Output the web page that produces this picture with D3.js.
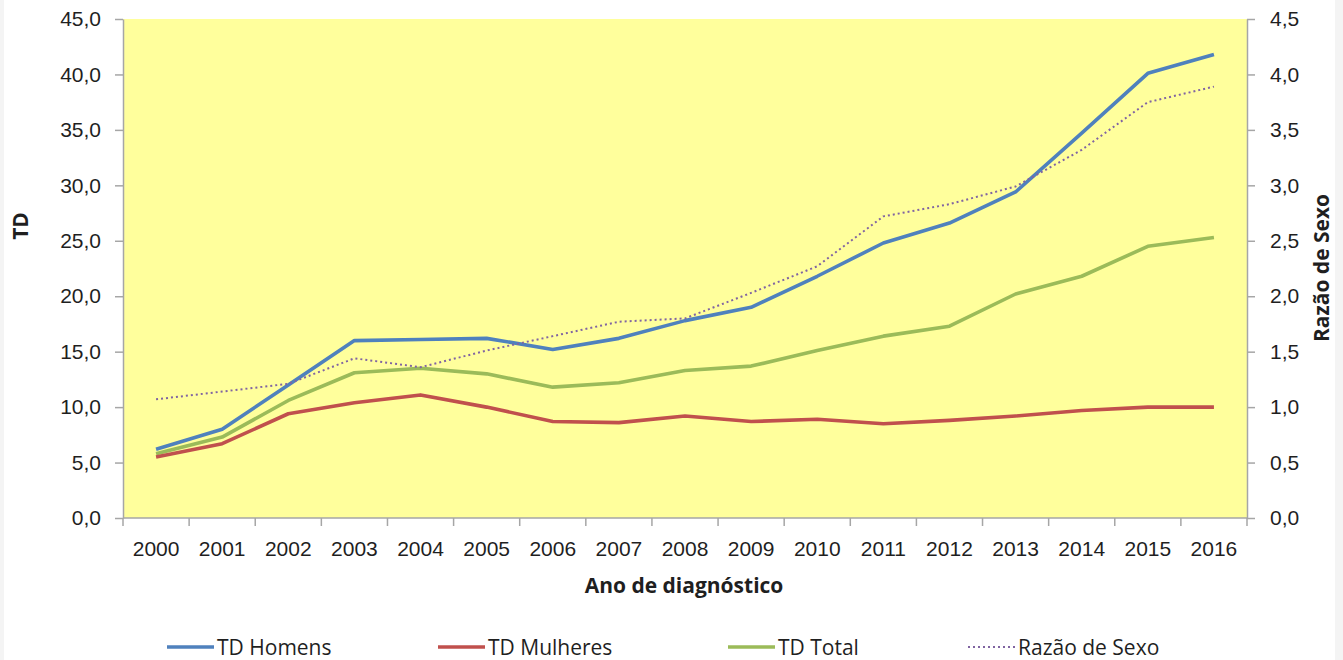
<!doctype html>
<html>
  <head>
    <meta charset="utf-8">
    <title>TD por ano de diagnóstico</title>
    <script src="https://cdnjs.cloudflare.com/ajax/libs/d3/7.8.5/d3.min.js"></script>
    <style>
      html, body { margin: 0; padding: 0; background: #f4f4f4; }
      svg { display: block; font-family: "Open Sans", sans-serif; }
    </style>
  </head>
  <body>
    <div id="chart"></div>
    <script>
      // values
      const years = ['2000','2001','2002','2003','2004','2005','2006','2007','2008',
                     '2009','2010','2011','2012','2013','2014','2015','2016'];
      const tdHomens   = [6.2, 8.0, 12.0, 16.0, 16.1, 16.2, 15.2, 16.2, 17.8, 19.0, 21.8, 24.8, 26.6, 29.4, 34.7, 40.1, 41.8];
      const tdMulheres = [5.5, 6.7, 9.4, 10.4, 11.1, 10.0, 8.7, 8.6, 9.2, 8.7, 8.9, 8.5, 8.8, 9.2, 9.7, 10.0, 10.0];
      const tdTotal    = [5.8, 7.3, 10.6, 13.1, 13.5, 13.0, 11.8, 12.2, 13.3, 13.7, 15.1, 16.4, 17.3, 20.2, 21.8, 24.5, 25.3];
      const razaoSexo  = [1.07, 1.14, 1.21, 1.44, 1.36, 1.51, 1.64, 1.77, 1.80, 2.03, 2.27, 2.72, 2.83, 2.99, 3.32, 3.75, 3.89];
      const leftTicks  = [0, 5, 10, 15, 20, 25, 30, 35, 40, 45];
      const rightTicks = [0, 0.5, 1, 1.5, 2, 2.5, 3, 3.5, 4, 4.5];

      const W = 1343, H = 660;
      const m = { left: 123, right: 1247, top: 19, bottom: 518 };
      const fmt = d3.format('.1f');
      const comma = v => fmt(v).replace('.', ',');

      const svg = d3.select('#chart').append('svg')
        .attr('width', W).attr('height', H);

      svg.append('rect').attr('x', 4).attr('y', 0)
        .attr('width', 1331).attr('height', H).attr('fill', '#fff');

      const x = d3.scaleBand().domain(years).range([m.left, m.right]);
      const yL = d3.scaleLinear().domain([0, 45]).range([m.bottom, m.top]);
      const yR = d3.scaleLinear().domain([0, 4.5]).range([m.bottom, m.top]);

      svg.append('rect')
        .attr('x', m.left).attr('y', m.top)
        .attr('width', m.right - m.left).attr('height', m.bottom - m.top)
        .attr('fill', '#ffff9c');

      const axisColor = '#a6a6a6';
      const styleAxis = g => {
        g.selectAll('path, line').attr('stroke', axisColor).attr('stroke-width', 1.5);
        g.selectAll('text').attr('fill', '#1f1f1f').style('font-size', '21px');
      };

      // left axis
      svg.append('g').attr('transform', `translate(${m.left},0)`)
        .call(d3.axisLeft(yL).tickValues(leftTicks).tickFormat(comma).tickSize(8).tickSizeOuter(0).tickPadding(14))
        .call(styleAxis);

      // right axis
      svg.append('g').attr('transform', `translate(${m.right},0)`)
        .call(d3.axisRight(yR).tickValues(rightTicks).tickFormat(comma).tickSize(8).tickSizeOuter(0).tickPadding(15))
        .call(styleAxis);

      // bottom axis, ticks on category boundaries
      const gx = svg.append('g').attr('transform', `translate(0,${m.bottom})`)
        .call(d3.axisBottom(x).tickSize(0).tickPadding(23))
        .call(styleAxis);
      gx.select('.domain').attr('d', `M${m.left},0H${m.right}`);
      gx.selectAll('.bound').data(d3.range(years.length + 1)).join('line')
        .attr('class', 'bound')
        .attr('x1', i => m.left + i * x.step()).attr('x2', i => m.left + i * x.step())
        .attr('y1', 0).attr('y2', 8)
        .attr('stroke', axisColor).attr('stroke-width', 1.5);

      // series
      const series = [
        { name: 'TD Homens',     values: tdHomens,   color: '#4f81bd', y: yL, width: 3.6, dash: null },
        { name: 'TD Mulheres',   values: tdMulheres, color: '#c0504d', y: yL, width: 3.6, dash: null },
        { name: 'TD Total',      values: tdTotal,    color: '#9bbb59', y: yL, width: 3.6, dash: null },
        { name: 'Razão de Sexo', values: razaoSexo,  color: '#8064a2', y: yR, width: 2,   dash: '2,3' }
      ];

      const cx = d => x(d) + x.bandwidth() / 2;

      // draw order: total, mulheres, homens, razao
      [2, 1, 0, 3].forEach(k => {
        const s = series[k];
        const line = d3.line()
          .x((v, i) => cx(years[i]))
          .y(v => s.y(v));
        svg.append('path')
          .datum(s.values)
          .attr('d', line)
          .attr('fill', 'none')
          .attr('stroke', s.color)
          .attr('stroke-width', s.width)
          .attr('stroke-linejoin', 'round')
          .attr('stroke-dasharray', s.dash);
      });

      // axis titles
      svg.append('text')
        .attr('x', (m.left + m.right) / 2 - 1).attr('y', 593)
        .attr('text-anchor', 'middle')
        .style('font-size', '21px').style('font-weight', 'bold').attr('fill', '#1f1f1f')
        .text('Ano de diagnóstico');

      svg.append('text')
        .attr('transform', 'translate(28,226) rotate(-90)')
        .attr('text-anchor', 'middle')
        .style('font-size', '21px').style('font-weight', 'bold').attr('fill', '#1f1f1f')
        .text('TD');

      svg.append('text')
        .attr('transform', 'translate(1329,268) rotate(-90)')
        .attr('text-anchor', 'middle')
        .style('font-size', '21px').style('font-weight', 'bold').attr('fill', '#1f1f1f')
        .text('Razão de Sexo');

      // legend
      const legendX = [167, 438, 728, 968];
      const leg = svg.selectAll('.leg').data(series).join('g')
        .attr('class', 'leg')
        .attr('transform', (d, i) => `translate(${legendX[i]},647)`);
      leg.append('line')
        .attr('x1', 0).attr('x2', 47).attr('y1', 0).attr('y2', 0)
        .attr('stroke', d => d.color)
        .attr('stroke-width', d => d.width)
        .attr('stroke-dasharray', d => d.dash);
      leg.append('text')
        .attr('x', 50).attr('y', 7.5)
        .style('font-size', '21px').attr('fill', '#1f1f1f')
        .text(d => d.name);
    </script>
  </body>
</html>
